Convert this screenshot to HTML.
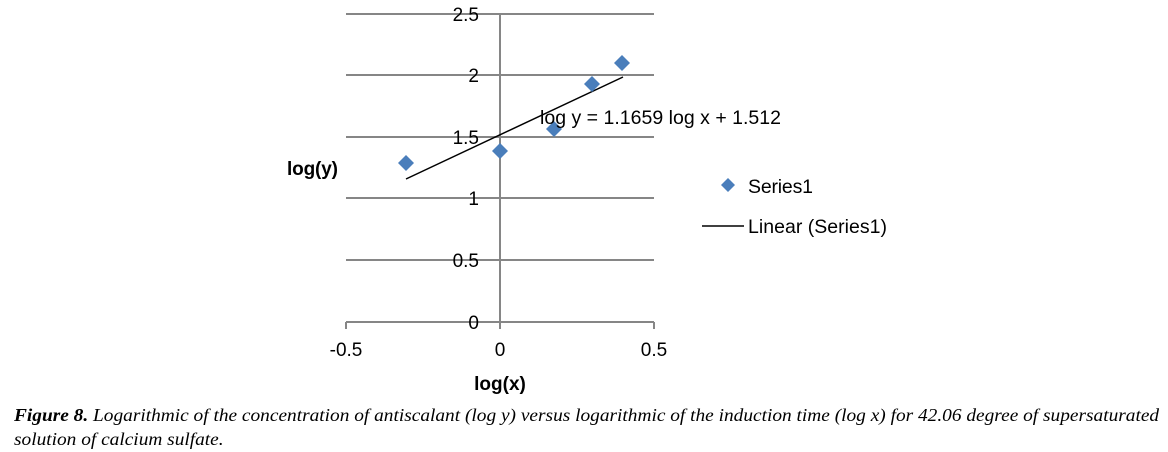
<!DOCTYPE html>
<html><head><meta charset="utf-8"><style>
body{margin:0;background:#fff;width:1168px;height:452px;overflow:hidden}
.cap{position:absolute;left:14px;top:403px;font-family:"Liberation Serif",serif;font-style:italic;font-size:18px;line-height:24px;color:#000;white-space:nowrap;transform:scaleX(1.075);transform-origin:0 0}
</style></head><body>
<svg width="1168" height="400" style="position:absolute;left:0;top:0" font-family="Liberation Sans, sans-serif">
<g stroke="#868686" stroke-width="2">
<line x1="346" y1="14" x2="654" y2="14"/>
<line x1="346" y1="75" x2="654" y2="75"/>
<line x1="346" y1="137" x2="654" y2="137"/>
<line x1="346" y1="198" x2="654" y2="198"/>
<line x1="346" y1="260" x2="654" y2="260"/>
<line x1="346" y1="322" x2="654" y2="322"/>
<line x1="500" y1="14" x2="500" y2="322"/>
<line x1="346" y1="322" x2="346" y2="329"/>
<line x1="654" y1="322" x2="654" y2="329"/>
<line x1="500" y1="322" x2="500" y2="329"/>
</g>
<g font-size="19" fill="#000" text-anchor="end">
<text x="479" y="21">2.5</text>
<text x="479" y="82">2</text>
<text x="479" y="144">1.5</text>
<text x="479" y="205">1</text>
<text x="479" y="267">0.5</text>
<text x="479" y="329">0</text>
</g>
<g font-size="19" fill="#000" text-anchor="middle">
<text x="346" y="356">-0.5</text>
<text x="500" y="356">0</text>
<text x="654" y="356">0.5</text>
</g>
<text x="287" y="175" font-size="19" font-weight="bold" textLength="51">log(y)</text>
<text x="500" y="390" font-size="19" font-weight="bold" text-anchor="middle">log(x)</text>
<line x1="406" y1="179" x2="623" y2="77" stroke="#000" stroke-width="1.5"/>
<g fill="#4a7ebb">
<path d="M406 155 l8 8 -8 8 -8 -8z"/>
<path d="M500 143 l8 8 -8 8 -8 -8z"/>
<path d="M554 121 l8 8 -8 8 -8 -8z"/>
<path d="M592 76 l8 8 -8 8 -8 -8z"/>
<path d="M622 55 l8 8 -8 8 -8 -8z"/>
<path d="M728 178 l7 7 -7 7 -7 -7z"/>
</g>
<text x="540" y="124" font-size="19.5" textLength="241">log y = 1.1659 log x + 1.512</text>
<text x="748" y="193" font-size="19.5" textLength="65">Series1</text>
<line x1="702" y1="226" x2="744" y2="226" stroke="#000" stroke-width="1.5"/>
<text x="748" y="233" font-size="19.5" textLength="139">Linear (Series1)</text>
</svg>
<div class="cap"><b>Figure 8.</b> Logarithmic of the concentration of antiscalant (log y) versus logarithmic of the induction time (log x) for 42.06 degree of supersaturated<br>solution of calcium sulfate.</div>
</body></html>
